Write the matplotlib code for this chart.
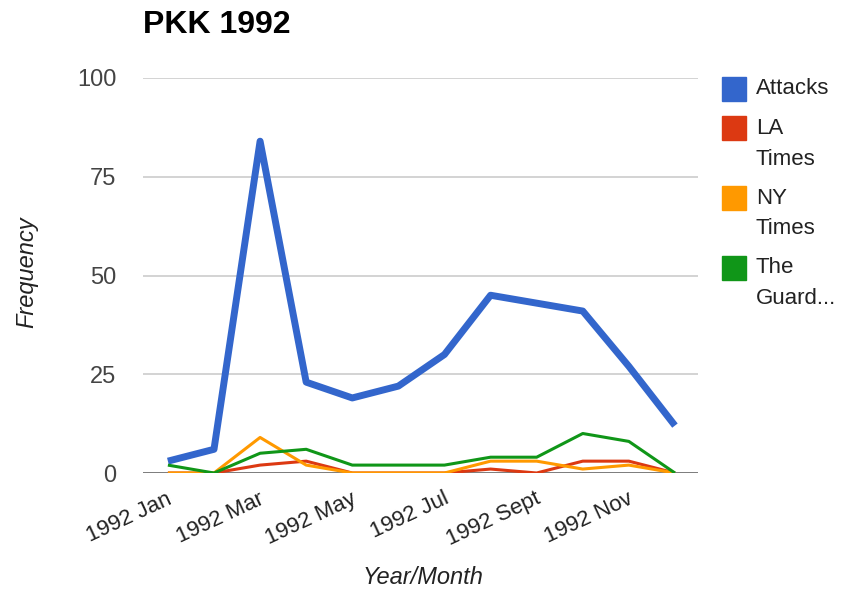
import matplotlib.pyplot as plt
from matplotlib.patches import Rectangle
from matplotlib.transforms import ScaledTranslation

plt.rcParams['font.family'] = ['Liberation Sans', 'DejaVu Sans']

months = ['1992 Jan', '1992 Feb', '1992 Mar', '1992 Apr', '1992 May', '1992 Jun',
          '1992 Jul', '1992 Aug', '1992 Sept', '1992 Oct', '1992 Nov', '1992 Dec']
attacks = [3, 6, 84, 23, 19, 22, 30, 45, 43, 41, 27, 12]
la_times = [0, 0, 2, 3, 0, 0, 0, 1, 0, 3, 3, 0]
ny_times = [0, 0, 9, 2, 0, 0, 0, 3, 3, 1, 2, 0]
guardian = [2, 0, 5, 6, 2, 2, 2, 4, 4, 10, 8, 0]

series = [
    ("Attacks", attacks, "#3366cc", 5.0),
    ("LA\nTimes", la_times, "#dc3912", 2.2),
    ("NY\nTimes", ny_times, "#ff9900", 2.2),
    ("The\nGuard...", guardian, "#109618", 2.2),
]

W, H = 845, 592
fig = plt.figure(figsize=(W / 100, H / 100), dpi=100)
ax = fig.add_axes([143 / W, 1 - 473 / H, (698 - 143) / W, (473 - 78) / H])

x = list(range(len(months)))
# gridlines
for v in [25, 50, 75, 100]:
    ax.axhline(v, color="#cccccc", lw=1.2, zorder=0)

for name, vals, col, lw in series:
    ax.plot(x, vals, color=col, lw=lw, solid_joinstyle="round",
            solid_capstyle="butt", zorder=3)
ax.axhline(0, color="#555555", lw=1.8, zorder=2)

ax.set_xlim(-0.54, 11.5)
ax.set_ylim(0, 100)
ax.set_yticks([0, 25, 50, 75, 100])
ax.tick_params(axis="y", length=0, pad=19, labelsize=17, labelcolor="#444444")
ax.set_xticks(x[::2])
ax.set_xticklabels(months[::2], rotation=25, ha="right", va="center",
                   rotation_mode="anchor")
ax.tick_params(axis="x", length=0, pad=18, labelsize=16, labelcolor="#222222")
shift = ScaledTranslation(3 / 100, 0, fig.dpi_scale_trans)
for lab in ax.get_xticklabels():
    lab.set_transform(lab.get_transform() + shift)
for s in ax.spines.values():
    s.set_visible(False)

# axis titles and chart title
fig.text(27 / W, 1 - 272 / H, "Frequency", style="italic", fontsize=17,
         color="#222222", rotation=90, ha="center", va="center")
fig.text(423 / W, 1 - 577 / H, "Year/Month", style="italic", fontsize=17,
         color="#222222", ha="center", va="center")
fig.text(143 / W, 1 - 25 / H, "PKK 1992", fontsize=23, fontweight="bold",
         va="center", ha="left")

# legend: square aligned with first line of each label
y = 89
for name, vals, col, lw in series:
    fig.add_artist(Rectangle((722 / W, 1 - (y + 12) / H), 24 / W, 24 / H,
                             facecolor=col, edgecolor=col,
                             transform=fig.transFigure))
    for i, line in enumerate(name.split("\n")):
        fig.text(756 / W, 1 - (y + i * 31) / H, line, fontsize=16,
                 color="#222222", ha="left", va="center")
    y += 39 + 31 * (len(name.split("\n")) - 1)

fig.savefig("out.png", dpi=100)
